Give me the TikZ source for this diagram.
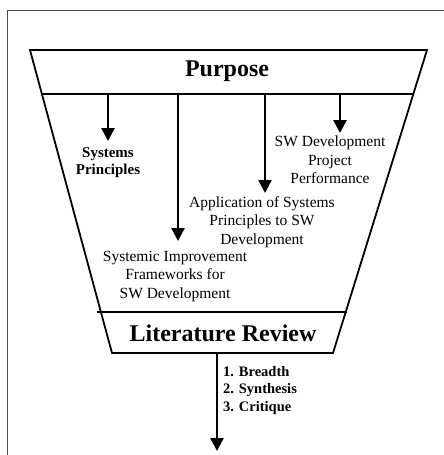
\documentclass[tikz,border=0pt]{standalone}
\usepackage{fontspec}
\setmainfont{Liberation Serif}
\usetikzlibrary{arrows.meta}
\begin{document}
\begin{tikzpicture}[x=1pt,y=-1pt,
  outline/.style={line width=1.8pt, line join=miter},
  flow/.style={line width=2.6pt, -{Triangle[width=13pt,length=13pt]}},
  title/.style={font=\bfseries\fontsize{24}{28}\selectfont, inner sep=0pt},
  topic/.style={font=\fontsize{15.5}{18.5}\selectfont, align=center, inner sep=0pt},
  btopic/.style={font=\bfseries\fontsize{15}{17.5}\selectfont, align=center, inner sep=0pt},
  steps/.style={font=\bfseries\fontsize{14.5}{17.5}\selectfont, align=left, inner sep=0pt, anchor=north west}]
\useasboundingbox (0,0) rectangle (444,455);
% page frame, open to the right and below
\draw[line width=1pt, black!70] (7,455) -- (7,10) -- (444,10);
% funnel outline with the two bars
\draw[outline] (30,50) -- (427,50) -- (333,353) -- (112,353) -- cycle;
\draw[outline] (42,94) -- (413,94);
\draw[outline] (97,312) -- (347,312);
% bar titles
\node[title] (purpose) at (227,71) {Purpose};
\node[title] (lit) at (223,333) {Literature Review};
% arrow roots on the purpose bar
\coordinate (r1) at (108,94);
\coordinate (r2) at (178,94);
\coordinate (r3) at (265,94);
\coordinate (r4) at (340,94);
% topics
\node[btopic, anchor=north] (sysp) at (108,147) {Systems\\Principles};
\node[topic, anchor=north] (perf) at (330,136) {SW Development\\Project\\Performance};
\node[topic, anchor=north] (appl) at (262,196) {Application of Systems\\Principles to SW\\Development};
\node[topic, anchor=north] (fram) at (175,251) {Systemic Improvement\\Frameworks for\\SW Development};
% arrows from the purpose bar to each topic
\draw[flow] (r1) -- (108,141);
\draw[flow] (r2) -- (178,241);
\draw[flow] (r3) -- (265,193);
\draw[flow] (r4) -- (340,133);
% output of the review
\coordinate (litout) at (217,353);
\coordinate (result) at (217,451);
\draw[flow] (litout) -- (result);
\node[steps] (list) at (223,366) {1. Breadth\\2. Synthesis\\3. Critique};
\end{tikzpicture}
\end{document}
